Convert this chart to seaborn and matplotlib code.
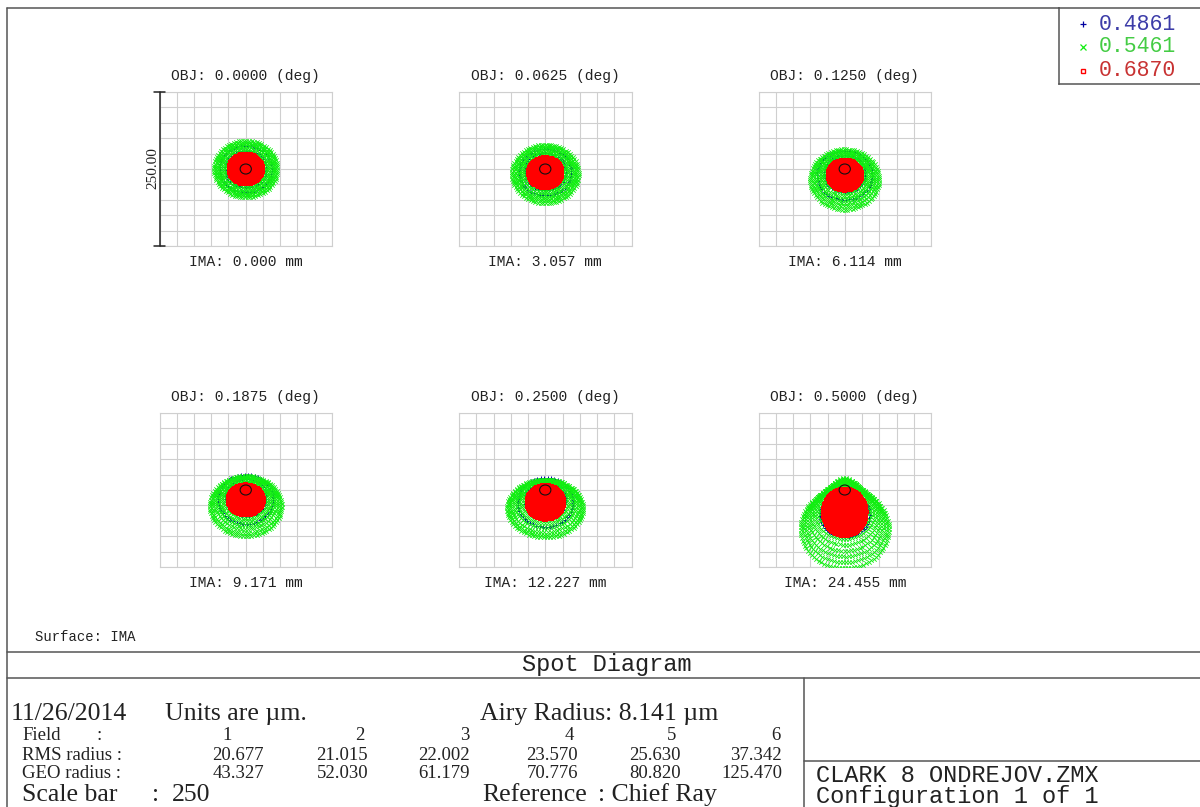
import numpy as np
import pandas as pd
import matplotlib
matplotlib.use("Agg")
import matplotlib.pyplot as plt
import seaborn as sns
from matplotlib.lines import Line2D
from matplotlib.patches import Circle

# ---------------- data ----------------
FIELD_ANGLES = ["0.0000", "0.0625", "0.1250", "0.1875", "0.2500", "0.5000"]
IMA_HEIGHTS = ["0.000", "3.057", "6.114", "9.171", "12.227", "24.455"]
FIELD_NUMBERS = ["1", "2", "3", "4", "5", "6"]
RMS_RADIUS = ["20.677", "21.015", "22.002", "23.570", "25.630", "37.342"]
GEO_RADIUS = ["43.327", "52.030", "61.179", "70.776", "80.820", "125.470"]
WAVELENGTHS = ["0.4861", "0.5461", "0.6870"]
AIRY_RADIUS = 8.141
SCALE_BAR = 250

# spot rings per field (radius in um, centre shift below chief ray in um)
GREEN_R = [
    [5, 10, 15, 20, 25, 29, 33, 37, 40, 43, 46],
    [5, 10, 15, 20, 25, 29, 33, 37, 41, 44, 47.5],
    [5, 10, 15, 20, 25, 29, 33, 37, 41, 45, 49],
    [5, 10, 15, 20, 25, 30, 34, 38, 42, 46, 49],
    [5, 10, 15, 20, 25, 30, 34, 38, 42, 45, 47],
    [16, 20, 24, 28, 32, 36, 40, 44, 48, 52, 56, 60, 64],
]
GREEN_DY = [
    [0, 0, 0, 0, 0, 0, 0, 0, 0, 0, 0],
    [1, 1.5, 2, 3, 3.5, 4.5, 5, 6, 6.5, 7, 8],
    [2, 3, 5, 6, 8, 9, 11, 12, 14, 15, 17],
    [3, 5, 8, 10, 13, 15, 17, 19, 21, 24, 26],
    [4, 6, 9, 12, 15, 18, 20, 23, 26, 28, 30],
    [-3, 2.5, 8, 13.5, 19, 24.5, 30, 35.5, 41, 46.5, 52, 57.5, 63],
]
GREEN_XSCALE = [1.0, 1.02, 1.02, 1.06, 1.17, 1.0]

RED_R = [
    [2, 5, 8, 11, 14, 17, 20, 23, 25],
    [2, 5, 8, 11, 14, 17, 20, 23, 25],
    [2, 5, 8, 11, 14, 17, 20, 23, 25],
    [2, 5, 8, 11, 14, 17, 20, 23, 25],
    [2, 5, 8, 11, 14, 17, 20, 23, 26, 28],
    [3, 6, 9, 12, 15, 18, 21, 24, 27, 30, 33, 36, 38],
]
RED_DY = [
    [0, 0, 0, 0, 0, 0, 0, 0, 0],
    [2, 2.5, 3, 3.5, 4, 4.5, 5, 5.5, 6],
    [3, 4, 5, 6, 6.5, 7.5, 8, 9, 10],
    [4, 5, 6, 8, 9, 11, 12, 14, 16],
    [7, 8, 9, 11, 12, 14, 15, 17, 19, 20],
    [6, 8, 10, 12, 14, 17, 19, 22, 25, 28, 31, 34, 36.5],
]
RED_XSCALE = [1.0, 1.0, 1.0, 1.04, 0.97, 0.83]

BLUE_R = [
    [10, 20, 30, 38],
    [10, 20, 30, 38],
    [10, 20, 30, 40],
    [10, 20, 30, 40],
    [10, 20, 30, 40],
    [12, 20, 28, 36],
]
BLUE_DY = [
    [0, 0, 0, 0],
    [2, 3, 4, 5],
    [4, 6, 8, 10],
    [6, 9, 12, 15],
    [8, 12, 16, 20],
    [30, 38, 44, 40],
]

COL_BLUE = "#0000a0"
COL_GREEN = "#11ee11"
COL_RED = "#ff0000"

# ---------------- figure ----------------
W, H = 1200, 807
sns.set_style("white")
fig = plt.figure(figsize=(12, 8.07), dpi=100)
fig.patch.set_facecolor("white")

def fx(x):
    return x / W

def fy(y):
    return 1 - y / H

LINE_COL = "#555555"
TXT = "#222222"

def hline(y, x0, x1):
    fig.add_artist(Line2D([fx(x0), fx(x1)], [fy(y), fy(y)], transform=fig.transFigure,
                          color=LINE_COL, lw=1.1))

def vline(x, y0, y1):
    fig.add_artist(Line2D([fx(x), fx(x)], [fy(y0), fy(y1)], transform=fig.transFigure,
                          color=LINE_COL, lw=1.1))

def ftext(x, y, s, size, family="Liberation Serif", ha="left", va="center", color=TXT, **kw):
    fig.text(fx(x), fy(y), s, fontsize=size, family=family, ha=ha, va=va, color=color, **kw)


def ring_frame(radii, dys, xscale, step):
    xs, ys = [], []
    for k, (r, dy) in enumerate(zip(radii, dys)):
        n = max(8, int(round(2 * np.pi * r / step)))
        t = np.linspace(0, 2 * np.pi, n, endpoint=False) + 0.37 * k
        xs.append(xscale * r * np.cos(t))
        ys.append(-dy + r * np.sin(t))
    return pd.DataFrame({"x": np.concatenate(xs), "y": np.concatenate(ys)})


# panel boxes (pixel coords): left, top
COL_X = [159.5, 459.0, 758.5]
ROW_Y = [92.0, 413.0]
PW, PH = 172.5, 154.0
LIM = 125

MONO = "Liberation Mono"

for i in range(6):
    r, c = divmod(i, 3)
    x0, y0 = COL_X[c], ROW_Y[r]
    ax = fig.add_axes([fx(x0), fy(y0 + PH), PW / W, PH / H])
    ax.set_xlim(-LIM, LIM)
    ax.set_ylim(-LIM, LIM)
    ax.set_xticks(np.arange(-LIM, LIM + 1, 25))
    ax.set_yticks(np.arange(-LIM, LIM + 1, 25))
    ax.tick_params(length=0, labelbottom=False, labelleft=False)
    ax.grid(True, color="#cfcfcf", lw=0.8)
    ax.set_axisbelow(True)
    for sp in ax.spines.values():
        sp.set_color("#cfcfcf")
        sp.set_linewidth(0.8)

    blue = ring_frame(BLUE_R[i], BLUE_DY[i], 1.0, 5)
    green = ring_frame(GREEN_R[i], GREEN_DY[i], GREEN_XSCALE[i], 3.8 if i < 5 else 4.5)
    red = ring_frame(RED_R[i], RED_DY[i], RED_XSCALE[i], 2.2)
    sns.scatterplot(data=blue, x="x", y="y", ax=ax, marker="+", color=COL_BLUE,
                    s=12, linewidth=0.7, legend=False, zorder=2)
    sns.scatterplot(data=green, x="x", y="y", ax=ax, marker="x", color=COL_GREEN,
                    s=10, linewidth=0.6, legend=False, zorder=3)
    sns.scatterplot(data=red, x="x", y="y", ax=ax, marker="s", color=COL_RED,
                    s=7, linewidth=0, legend=False, zorder=4)
    ax.add_patch(Circle((0, 0), AIRY_RADIUS, fill=False, ec="#111111", lw=0.8, zorder=6))
    ax.set_xlabel("")
    ax.set_ylabel("")

    cx = x0 + PW / 2
    ftext(cx, y0 - 16, f"OBJ: {FIELD_ANGLES[i]} (deg)", 10.5, family=MONO, ha="center")
    ftext(cx, y0 + PH + 16, f"IMA: {IMA_HEIGHTS[i]} mm", 10.5, family=MONO, ha="center")

    if i == 0:
        # scale bar on the left edge of the first panel
        tr = ax.get_yaxis_transform()
        ax.plot([0, 0], [-SCALE_BAR / 2, SCALE_BAR / 2], transform=tr, color="#222222",
                lw=1.1, clip_on=False, zorder=7)
        for yy in (-SCALE_BAR / 2, SCALE_BAR / 2):
            ax.plot([-0.03, 0.03], [yy, yy], transform=tr, color="#222222", lw=1.1,
                    clip_on=False, zorder=7)
        ftext(153, 168, f"{SCALE_BAR:.2f}", 11, rotation=90, ha="center")

# ---------------- legend box ----------------
lax = fig.add_axes([fx(1059), fy(84), (1200 - 1059) / W, (84 - 8) / H])
lax.set_xlim(0, 1)
lax.set_ylim(0, 1)
lax.set_xticks([])
lax.set_yticks([])
for name, sp in lax.spines.items():
    sp.set_color(LINE_COL)
    sp.set_linewidth(1.1)
lax.spines["right"].set_visible(False)
leg_markers = ["+", "x", "s"]
leg_colors = [COL_BLUE, COL_GREEN, COL_RED]
leg_text_colors = ["#3c3ca8", "#44cc44", "#c83232"]
leg_rows = [24, 47, 71]
for k in range(3):
    yy = (84 - leg_rows[k]) / (84 - 8)
    if leg_markers[k] == "s":
        lax.plot([24 / 141], [yy], marker="s", ms=3.5, mfc="none", mec=leg_colors[k],
                 mew=1.0, transform=lax.transAxes)
    else:
        lax.plot([24 / 141], [yy], marker=leg_markers[k], ms=4.5, color=leg_colors[k],
                 mew=0.9, transform=lax.transAxes)
    ftext(1099, leg_rows[k], WAVELENGTHS[k], 15.5, family=MONO, color=leg_text_colors[k])

# ---------------- frame lines ----------------
hline(8, 7, 1059)
vline(7, 8, 807)
hline(652, 7, 1200)
hline(678, 7, 1200)
vline(804, 678, 807)
hline(761, 804, 1200)

ftext(35, 637, "Surface: IMA", 10, family=MONO)
ftext(607, 664, "Spot Diagram", 17, family=MONO, ha="center")

# ---------------- info table ----------------
BIG = 18.5
SMALL = 13.5
ftext(11, 714, "11/26/2014", BIG)
ftext(165, 714, "Units are \u00b5m.", BIG)
ftext(480, 714, "Airy Radius: 8.141 \u00b5m", BIG)

ftext(22, 736, "Field", SMALL)
ftext(96, 736, ":", SMALL)
ftext(22, 755, "RMS radius :", SMALL)
ftext(22, 774, "GEO radius :", SMALL)

FIELD_NUM_X = [232, 364, 469, 574, 676, 781]
VALUE_X = [264, 368, 470, 578, 681, 782]
for k in range(6):
    ftext(FIELD_NUM_X[k], 736, FIELD_NUMBERS[k], SMALL, ha="right")
    ftext(VALUE_X[k], 755, RMS_RADIUS[k], SMALL, ha="right")
    ftext(VALUE_X[k], 774, GEO_RADIUS[k], SMALL, ha="right")

ftext(22, 795, "Scale bar", BIG)
ftext(152, 795, ":", BIG)
ftext(172, 795, f"{SCALE_BAR}", BIG)
ftext(482, 795, "Reference", BIG)
ftext(598, 795, ": Chief Ray", BIG)

ftext(816, 782, "CLARK 8 ONDREJOV.ZMX", 17, family=MONO, va="baseline")
ftext(816, 803, "Configuration 1 of 1", 17, family=MONO, va="baseline")

fig.savefig("out.png", dpi=100, facecolor="white")
